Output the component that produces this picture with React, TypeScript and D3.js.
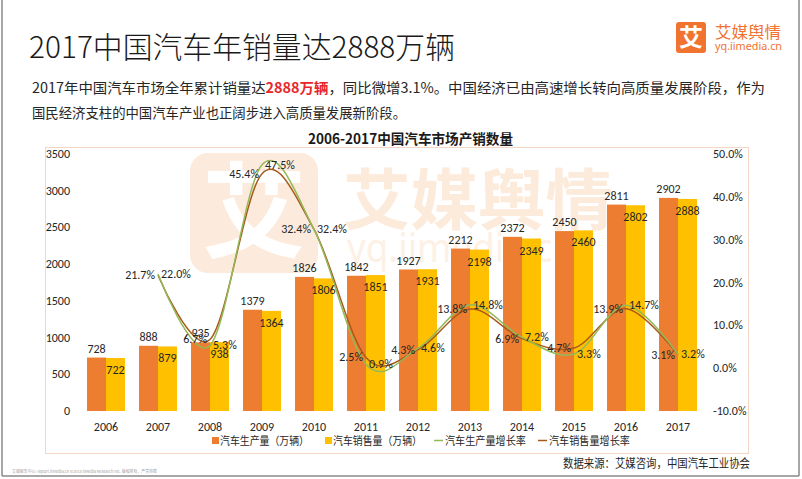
import React from 'react';
import * as d3 from 'd3';

const years = ['2006', '2007', '2008', '2009', '2010', '2011', '2012', '2013', '2014', '2015', '2016', '2017'];
const production = [728, 888, 935, 1379, 1826, 1842, 1927, 2212, 2372, 2450, 2811, 2902];
const sales = [722, 879, 938, 1364, 1806, 1851, 1931, 2198, 2349, 2460, 2802, 2888];
const growthYears = ['2007', '2008', '2009', '2010', '2011', '2012', '2013', '2014', '2015', '2016', '2017'];
const productionGrowth = [22.0, 5.3, 47.5, 32.4, 0.9, 4.6, 14.8, 7.2, 3.3, 14.7, 3.2];
const salesGrowth = [21.7, 6.7, 45.4, 32.4, 2.5, 4.3, 13.8, 6.9, 4.7, 13.9, 3.1];
const leftTicks = [0, 500, 1000, 1500, 2000, 2500, 3000, 3500];
const rightTicks = [-10, 0, 10, 20, 30, 40, 50];

const W = 802;
const H = 479;
const CJK = "'Noto Sans CJK SC', 'Noto Sans', sans-serif";
const NUM = "Carlito, Calibri, Lato, 'Noto Sans', sans-serif";
const ORANGE = '#ED7D31';
const YELLOW = '#FFC000';
const GREEN = '#93B958';
const BROWN = '#A85A1C';
const TXT = '#262626';

export default function App() {
  const x = d3.scaleBand<string>().domain(years).range([80, 704]).paddingInner(0.27).paddingOuter(0.135);
  const xi = d3.scaleBand<string>().domain(['p', 's']).range([0, x.bandwidth()]);
  const yL = d3.scaleLinear().domain([0, 3500]).range([411, 154]);
  const yR = d3.scaleLinear().domain([-10, 50]).range([411, 154]);
  const cx = (y: string) => (x(y) as number) + x.bandwidth() / 2;

  const line = d3
    .line<number>()
    .x((_, i) => cx(growthYears[i]))
    .y((d) => yR(d))
    .curve(d3.curveCatmullRom.alpha(0));

  return (
    <svg width={W} height={H} style={{ position: 'fixed', left: 0, top: 0, background: '#fff' }}>
      <rect x={0} y={0} width={W} height={H} fill="#fff" />
      {/* page border */}
      <line x1={2} y1={0} x2={2} y2={476} stroke="#8a8a8a" strokeWidth={1.5} />
      <line x1={799} y1={0} x2={799} y2={476} stroke="#8a8a8a" strokeWidth={1.5} />
      <line x1={2} y1={476} x2={799} y2={476} stroke="#8a8a8a" strokeWidth={1.5} />

      {/* title */}
      <text x={29} y={58} fontFamily={CJK} fontSize={30} fontWeight={300} fill="#1a1a1a" textLength={426} lengthAdjust="spacingAndGlyphs">
        2017中国汽车年销量达2888万辆
      </text>

      {/* logo */}
      <rect x={676} y={22} width={30} height={31} rx={3} fill="#F07330" />
      <text x={691} y={46} textAnchor="middle" fontFamily={CJK} fontSize={24} fontWeight={700} fill="#fff">艾</text>
      <text x={715} y={38} fontFamily={CJK} fontSize={16} fill="#F07330" textLength={66} lengthAdjust="spacingAndGlyphs">艾媒舆情</text>
      <text x={715} y={50} fontFamily="'Noto Sans', sans-serif" fontSize={11} fill="#F07330" textLength={67} lengthAdjust="spacingAndGlyphs">yq.iimedia.cn</text>

      {/* paragraph */}
      <text x={32} y={93} fontFamily={CJK} fontSize={14} fill={TXT} textLength={733} lengthAdjust="spacingAndGlyphs">
        2017年中国汽车市场全年累计销量达<tspan fill="#E8262A" fontWeight={700}>2888万辆</tspan>，同比微增3.1%。中国经济已由高速增长转向高质量发展阶段，作为
      </text>
      <text x={32} y={118} fontFamily={CJK} fontSize={14} fill={TXT} textLength={374} lengthAdjust="spacingAndGlyphs">
        国民经济支柱的中国汽车产业也正阔步进入高质量发展新阶段。
      </text>

      {/* chart title */}
      <text x={308} y={144} fontFamily={CJK} fontSize={14} fontWeight={700} fill="#1a1a1a" textLength={205} lengthAdjust="spacingAndGlyphs">
        2006-2017中国汽车市场产销数量
      </text>

      {/* chart frame */}
      <rect x={45.5} y={147.5} width={703} height={306} fill="none" stroke="#F3D6C3" strokeWidth={1} />

      {/* watermark */}
      <rect x={190} y={153} width={128} height={120} rx={18} fill="#FCEBDD" />
      <text x={254} y={250} textAnchor="middle" fontFamily={CJK} fontSize={104} fontWeight={700} fill="#fff">艾</text>
      <text x={343} y={224} fontFamily={CJK} fontSize={66} fontWeight={700} fill="#FCEADB" textLength={270} lengthAdjust="spacingAndGlyphs">艾媒舆情</text>
      <text x={347} y={262} fontFamily="'Noto Sans', sans-serif" fontSize={40} fill="#FDF0E5" textLength={228} lengthAdjust="spacingAndGlyphs">yq.iimedia.cn</text>

      {/* bars */}
      {years.map((yr, i) => (
        <g key={yr}>
          <rect x={(x(yr) as number) + (xi('p') as number)} y={yL(production[i])} width={xi.bandwidth()} height={yL(0) - yL(production[i])} fill={ORANGE} />
          <rect x={(x(yr) as number) + (xi('s') as number)} y={yL(sales[i])} width={xi.bandwidth()} height={yL(0) - yL(sales[i])} fill={YELLOW} />
        </g>
      ))}

      {/* growth lines */}
      <path d={line(salesGrowth) || ''} fill="none" stroke={BROWN} strokeWidth={1.5} />
      <path d={line(productionGrowth) || ''} fill="none" stroke={GREEN} strokeWidth={1.5} />

      {/* bar labels */}
      {years.map((yr, i) => (
        <g key={'l' + yr} fontFamily={NUM} fontSize={12} fill={TXT} textAnchor="middle">
          <text x={(x(yr) as number) + (xi('p') as number) + xi.bandwidth() / 2} y={yL(production[i]) - 5}>{production[i]}</text>
          <text x={(x(yr) as number) + (xi('s') as number) + xi.bandwidth() / 2} y={yL(sales[i]) + 16}>{sales[i]}</text>
        </g>
      ))}

      {/* growth labels */}
      {growthYears.map((yr, i) => (
        <g key={'g' + yr} fontFamily={NUM} fontSize={12} fill={TXT}>
          <text x={cx(yr) - 3} y={yR(salesGrowth[i]) + 4} textAnchor="end">{salesGrowth[i].toFixed(1)}%</text>
          <text x={cx(yr) + 3} y={yR(productionGrowth[i]) + 4} textAnchor="start">{productionGrowth[i].toFixed(1)}%</text>
        </g>
      ))}

      {/* left axis */}
      {leftTicks.map((t) => (
        <text key={'lt' + t} x={70} y={yL(t) + 4} textAnchor="end" fontFamily={NUM} fontSize={12} fill={TXT}>{t}</text>
      ))}
      {/* right axis */}
      {rightTicks.map((t) => (
        <text key={'rt' + t} x={713} y={yR(t) + 4} textAnchor="start" fontFamily={NUM} fontSize={12} fill={TXT}>{t.toFixed(1)}%</text>
      ))}
      {/* x axis */}
      {years.map((yr) => (
        <text key={'x' + yr} x={cx(yr)} y={431} textAnchor="middle" fontFamily={NUM} fontSize={12} fill={TXT}>{yr}</text>
      ))}

      {/* legend */}
      <g fontFamily={CJK} fontSize={11} fill={TXT}>
        <rect x={212} y={437} width={7} height={7} fill={ORANGE} />
        <text x={220} y={445} textLength={89} lengthAdjust="spacingAndGlyphs">汽车生产量（万辆）</text>
        <rect x={325} y={437} width={7} height={7} fill={YELLOW} />
        <text x={333} y={445} textLength={89} lengthAdjust="spacingAndGlyphs">汽车销售量（万辆）</text>
        <line x1={434} y1={440.5} x2={443} y2={440.5} stroke={GREEN} strokeWidth={1.5} />
        <text x={445} y={445} textLength={81} lengthAdjust="spacingAndGlyphs">汽车生产量增长率</text>
        <line x1={538} y1={440.5} x2={547} y2={440.5} stroke={BROWN} strokeWidth={1.5} />
        <text x={549} y={445} textLength={81} lengthAdjust="spacingAndGlyphs">汽车销售量增长率</text>
      </g>

      {/* source */}
      <text x={750} y={468} textAnchor="end" fontFamily={CJK} fontSize={12} fill={TXT} textLength={187} lengthAdjust="spacingAndGlyphs">
        数据来源：艾媒咨询，中国汽车工业协会
      </text>

      {/* footer */}
      <text x={12} y={473} fontFamily={CJK} fontSize={4} fill="#a0a0a0" textLength={145} lengthAdjust="spacingAndGlyphs">
        艾媒报告中心: report.iimedia.cn ©2018 iiMedia Research Inc. 版权所有，严禁转载
      </text>
    </svg>
  );
}
